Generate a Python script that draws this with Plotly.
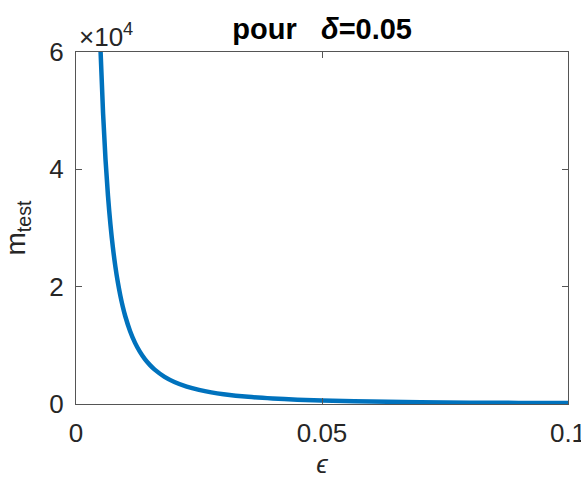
import plotly.graph_objects as go

# epsilon values and m_test values
eps = [0.0050, 0.0055, 0.0060, 0.0065, 0.0070, 0.0075, 0.0080, 0.0085, 0.0090, 0.0095,
       0.0100, 0.0110, 0.0120, 0.0130, 0.0140, 0.0150, 0.0160, 0.0180, 0.0200, 0.0225,
       0.0250, 0.0275, 0.0300, 0.0350, 0.0400, 0.0450, 0.0500, 0.0600, 0.0700, 0.0800,
       0.0900, 0.1000]
m_test = [60000, 49590, 41670, 35500, 30610, 26670, 23440, 20760, 18520, 16620,
          15000, 12400, 10420, 8880, 7650, 6670, 5860, 4630, 3750, 2960,
          2400, 1980, 1670, 1220, 940, 740, 600, 420, 310, 234,
          185, 150]

x_ticks = [0, 0.05, 0.1]
x_tick_labels = ["0", "0.05", "0.1"]
y_ticks = [0, 20000, 40000, 60000]
y_tick_labels = ["0", "2", "4", "6"]

font_family = "Liberation Sans, Arial, Helvetica, sans-serif"
axis_color = "#555555"
text_color = "#262626"

fig = go.Figure()
fig.add_trace(go.Scatter(x=eps, y=m_test, mode="lines",
                         line=dict(color="#0072BD", width=4.5, shape="spline"),
                         showlegend=False))

fig.update_layout(
    width=581, height=479,
    margin=dict(l=76, r=13, t=52, b=75),
    paper_bgcolor="white", plot_bgcolor="white",
    font=dict(family=font_family, color=text_color, size=26),
    title=dict(text="<b>pour\u00a0\u00a0\u00a0<i>δ</i>=0.05</b>", x=0.5545, xanchor="center",
               y=0.94, yanchor="middle", font=dict(size=29, color="black")),
    xaxis=dict(range=[0, 0.1000001], tickvals=x_ticks, ticktext=x_tick_labels, ticks="inside", ticklen=6,
               tickcolor=axis_color, showline=True, linecolor=axis_color, linewidth=1, mirror="ticks",
               showgrid=False, zeroline=False, tickfont=dict(size=26, color=text_color),
               ticklabelstandoff=6, ticklabeloverflow="allow", automargin=False,
               title=dict(text="<i>ϵ</i>", font=dict(size=26), standoff=9)),
    yaxis=dict(range=[0, 60000], tickvals=y_ticks, ticktext=y_tick_labels, ticks="inside", ticklen=6,
               tickcolor=axis_color, showline=True, linecolor=axis_color, linewidth=1, mirror="ticks",
               showgrid=False, zeroline=False, tickfont=dict(size=26, color=text_color),
               ticklabelstandoff=6, ticklabeloverflow="allow", automargin=False,
               title=dict(text="m<sub>test</sub>", font=dict(size=28), standoff=17)),
)

fig.add_annotation(text="×10<sup>4</sup>", xref="paper", yref="paper", x=0.0, y=1.0,
                   xanchor="left", yanchor="bottom", showarrow=False,
                   font=dict(size=26, color=text_color), yshift=-2, xshift=1)

fig.write_html("out.html")
